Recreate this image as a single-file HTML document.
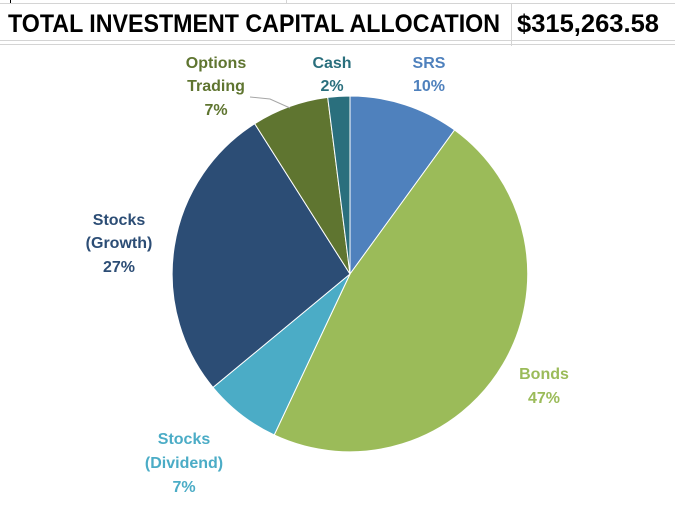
<!DOCTYPE html>
<html><head><style>html,body{margin:0;padding:0;background:#fff}</style></head>
<body>
<svg width="675" height="507" xmlns="http://www.w3.org/2000/svg" font-family="Liberation Sans, sans-serif">
<rect width="675" height="507" fill="#fff"/>
<line x1="0" y1="3.5" x2="675" y2="3.5" stroke="#d4d4d4"/>
<line x1="286.5" y1="0" x2="286.5" y2="4" stroke="#d4d4d4"/>
<line x1="10.5" y1="0" x2="10.5" y2="3" stroke="#000"/>
<line x1="0" y1="40.5" x2="675" y2="40.5" stroke="#d4d4d4"/>
<line x1="0" y1="44.5" x2="675" y2="44.5" stroke="#d4d4d4"/>
<line x1="511.5" y1="4" x2="511.5" y2="46" stroke="#d4d4d4"/>
<text x="8" y="32" font-size="25" font-weight="bold" textLength="492" lengthAdjust="spacingAndGlyphs">TOTAL INVESTMENT CAPITAL ALLOCATION</text>
<text x="517" y="32" font-size="25" font-weight="bold" textLength="142" lengthAdjust="spacingAndGlyphs">$315,263.58</text>
<g stroke="#fff" stroke-width="1">
<path d="M350,274 L350,96 A178,178 0 0,1 454.6,130 Z" fill="#4f81bd"/>
<path d="M350,274 L454.6,130 A178,178 0 0,1 274.2,435 Z" fill="#9bbb59"/>
<path d="M350,274 L274.2,435 A178,178 0 0,1 213,387.4 Z" fill="#4bacc6"/>
<path d="M350,274 L213,387.4 A178,178 0 0,1 254.7,123.7 Z" fill="#2c4d75"/>
<path d="M350,274 L254.7,123.7 A178,178 0 0,1 327.7,97.4 Z" fill="#5f7530"/>
<path d="M350,274 L327.7,97.4 A178,178 0 0,1 350,96 Z" fill="#2a6f7d"/>
</g>
<polyline points="250,97 270,99 290,108" fill="none" stroke="#a6a6a6"/>
<g font-size="16" font-weight="bold" text-anchor="middle">
<text x="216" y="68" fill="#5f7530">Options</text>
<text x="216" y="91" fill="#5f7530">Trading</text>
<text x="216" y="115" fill="#5f7530">7%</text>
<text x="332" y="68" fill="#2a6f7d">Cash</text>
<text x="332" y="91" fill="#2a6f7d">2%</text>
<text x="429" y="68" fill="#4f81bd">SRS</text>
<text x="429" y="91" fill="#4f81bd">10%</text>
<text x="544" y="379" fill="#9bbb59">Bonds</text>
<text x="544" y="403" fill="#9bbb59">47%</text>
<text x="119" y="225" fill="#2c4d75">Stocks</text>
<text x="119" y="248" fill="#2c4d75">(Growth)</text>
<text x="119" y="272" fill="#2c4d75">27%</text>
<text x="184" y="444" fill="#4bacc6">Stocks</text>
<text x="184" y="468" fill="#4bacc6">(Dividend)</text>
<text x="184" y="492" fill="#4bacc6">7%</text>
</g>
</svg>
</body></html>
